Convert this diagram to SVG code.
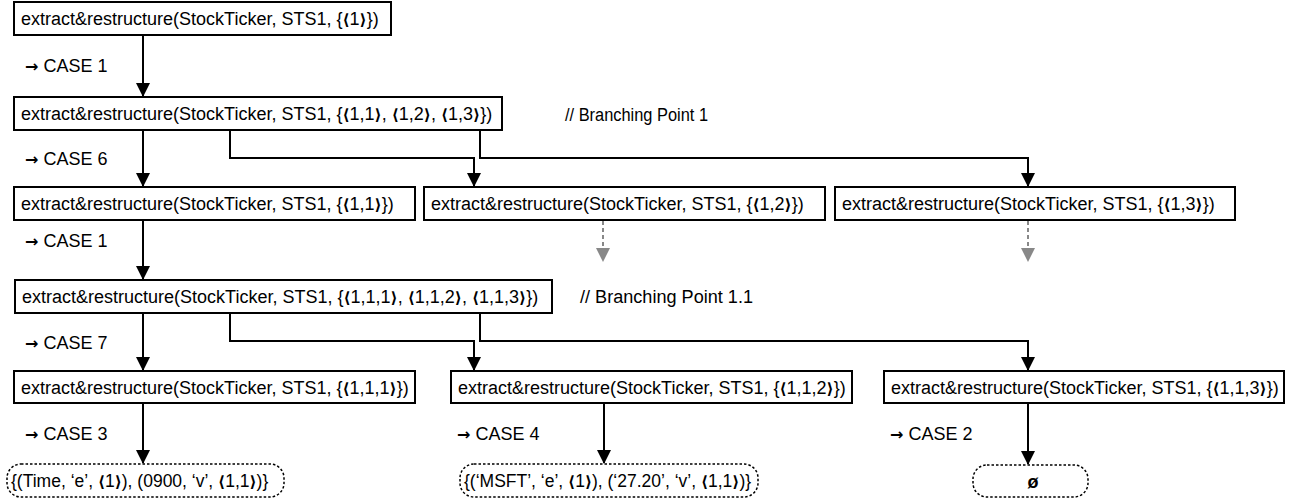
<svg xmlns="http://www.w3.org/2000/svg" width="1299" height="501" viewBox="0 0 1299 501">
  <style>
    .box { fill: #fff; stroke: #000; stroke-width: 2; }
    .res { fill: #fff; stroke: #000; stroke-width: 1.5; stroke-dasharray: 2.5 2; }
    .t { font-family: "Liberation Sans", "DejaVu Sans", sans-serif; font-size: 18px; fill: #000; }
    .rt { font-family: "Liberation Sans", "DejaVu Sans", sans-serif; font-size: 17.5px; fill: #000; }
    .lbl { font-family: "Liberation Sans", "DejaVu Sans", sans-serif; font-size: 18px; fill: #000; }
    .b { font-weight: bold; font-family: "DejaVu Sans", sans-serif; font-size: 15.5px; }
    .arr { font-weight: bold; font-family: "DejaVu Sans", sans-serif; font-size: 16px; }
    .edge { fill: none; stroke: #000; stroke-width: 2; marker-end: url(#ah); }
    .ghost { fill: none; stroke: #888; stroke-width: 2; stroke-dasharray: 4 3; marker-end: url(#ahg); }
  </style>
  <defs>
    <marker id="ah" markerUnits="userSpaceOnUse" markerWidth="14" markerHeight="16" refX="13" refY="7" orient="auto">
      <path d="M0,0 L14,7 L0,14 Z" fill="#000"/>
    </marker>
    <marker id="ahg" markerUnits="userSpaceOnUse" markerWidth="14" markerHeight="16" refX="13" refY="7" orient="auto">
      <path d="M0,0 L14,7 L0,14 Z" fill="#888"/>
    </marker>
  </defs>

  <rect width="1299" height="501" fill="#fff"/>

  <!-- connectors -->
  <g id="connectors">
    <path class="edge" d="M143,35 V96"/>
    <path class="edge" d="M143,130 V186"/>
    <path class="edge" d="M230,130 V158 H474 V186"/>
    <path class="edge" d="M480,130 V158 H1028 V186"/>
    <path class="ghost" d="M603,221 V261"/>
    <path class="ghost" d="M1028,221 V261"/>
    <path class="edge" d="M143,220 V279"/>
    <path class="edge" d="M143,313 V370"/>
    <path class="edge" d="M230,313 V341 H474 V370"/>
    <path class="edge" d="M480,313 V341 H1028 V370"/>
    <path class="edge" d="M143,403 V463"/>
    <path class="edge" d="M604,403 V463"/>
    <path class="edge" d="M1028,403 V464"/>
  </g>

  <!-- edge annotations -->
  <g id="labels">
    <text class="lbl" x="25" y="72"><tspan class="arr">→</tspan> CASE 1</text>
    <text class="lbl" x="25" y="165"><tspan class="arr">→</tspan> CASE 6</text>
    <text class="lbl" x="25" y="247"><tspan class="arr">→</tspan> CASE 1</text>
    <text class="lbl" x="25" y="349"><tspan class="arr">→</tspan> CASE 7</text>
    <text class="lbl" x="25" y="440"><tspan class="arr">→</tspan> CASE 3</text>
    <text class="lbl" x="457" y="440"><tspan class="arr">→</tspan> CASE 4</text>
    <text class="lbl" x="890" y="440"><tspan class="arr">→</tspan> CASE 2</text>
    <text class="t" x="565" y="121" textLength="143" lengthAdjust="spacingAndGlyphs">// Branching Point 1</text>
    <text class="t" x="580" y="303" textLength="173" lengthAdjust="spacingAndGlyphs">// Branching Point 1.1</text>
  </g>

  <g id="n1">
    <rect class="box" x="14" y="2" width="377" height="33"/>
    <text class="t" x="21" y="25">extract&amp;restructure(StockTicker, STS1, {<tspan class="b">⟨</tspan>1<tspan class="b">⟩</tspan>})</text>
  </g>

  <g id="n2">
    <rect class="box" x="14" y="97" width="488" height="33"/>
    <text class="t" x="21" y="120">extract&amp;restructure(StockTicker, STS1, {<tspan class="b">⟨</tspan>1,1<tspan class="b">⟩</tspan>, <tspan class="b">⟨</tspan>1,2<tspan class="b">⟩</tspan>, <tspan class="b">⟨</tspan>1,3<tspan class="b">⟩</tspan>})</text>
  </g>

  <g id="n3">
    <rect class="box" x="14" y="187" width="401" height="33"/>
    <text class="t" x="21" y="210">extract&amp;restructure(StockTicker, STS1, {<tspan class="b">⟨</tspan>1,1<tspan class="b">⟩</tspan>})</text>
  </g>

  <g id="n4">
    <rect class="box" x="424" y="187" width="401" height="33"/>
    <text class="t" x="431" y="210">extract&amp;restructure(StockTicker, STS1, {<tspan class="b">⟨</tspan>1,2<tspan class="b">⟩</tspan>})</text>
  </g>

  <g id="n5">
    <rect class="box" x="835" y="187" width="400" height="33"/>
    <text class="t" x="842" y="210">extract&amp;restructure(StockTicker, STS1, {<tspan class="b">⟨</tspan>1,3<tspan class="b">⟩</tspan>})</text>
  </g>

  <g id="n6">
    <rect class="box" x="15" y="280" width="537" height="33"/>
    <text class="t" x="22" y="303">extract&amp;restructure(StockTicker, STS1, {<tspan class="b">⟨</tspan>1,1,1<tspan class="b">⟩</tspan>, <tspan class="b">⟨</tspan>1,1,2<tspan class="b">⟩</tspan>, <tspan class="b">⟨</tspan>1,1,3<tspan class="b">⟩</tspan>})</text>
  </g>

  <g id="n7">
    <rect class="box" x="14" y="371" width="401" height="32"/>
    <text class="t" x="21" y="394">extract&amp;restructure(StockTicker, STS1, {<tspan class="b">⟨</tspan>1,1,1<tspan class="b">⟩</tspan>})</text>
  </g>

  <g id="n8">
    <rect class="box" x="451" y="371" width="401" height="32"/>
    <text class="t" x="458" y="394">extract&amp;restructure(StockTicker, STS1, {<tspan class="b">⟨</tspan>1,1,2<tspan class="b">⟩</tspan>})</text>
  </g>

  <g id="n9">
    <rect class="box" x="884" y="371" width="400" height="32"/>
    <text class="t" x="891" y="394">extract&amp;restructure(StockTicker, STS1, {<tspan class="b">⟨</tspan>1,1,3<tspan class="b">⟩</tspan>})</text>
  </g>

  <g id="r1">
    <rect class="res" x="7" y="464" width="277" height="33" rx="14" ry="14"/>
    <text class="rt" x="11" y="487">{(Time, ‘e’, <tspan class="b">⟨</tspan>1<tspan class="b">⟩</tspan>), (0900, ‘v’, <tspan class="b">⟨</tspan>1,1<tspan class="b">⟩</tspan>)}</text>
  </g>

  <g id="r2">
    <rect class="res" x="460" y="464" width="298" height="33" rx="14" ry="14"/>
    <text class="rt" x="464" y="487">{(‘MSFT’, ‘e’, <tspan class="b">⟨</tspan>1<tspan class="b">⟩</tspan>), (‘27.20’, ‘v’, <tspan class="b">⟨</tspan>1,1<tspan class="b">⟩</tspan>)}</text>
  </g>

  <g id="r3">
    <rect class="res" x="973" y="465" width="115" height="32" rx="14" ry="14"/>
    <text class="t" x="1033" y="488" text-anchor="middle" font-weight="bold">ø</text>
  </g>
</svg>
